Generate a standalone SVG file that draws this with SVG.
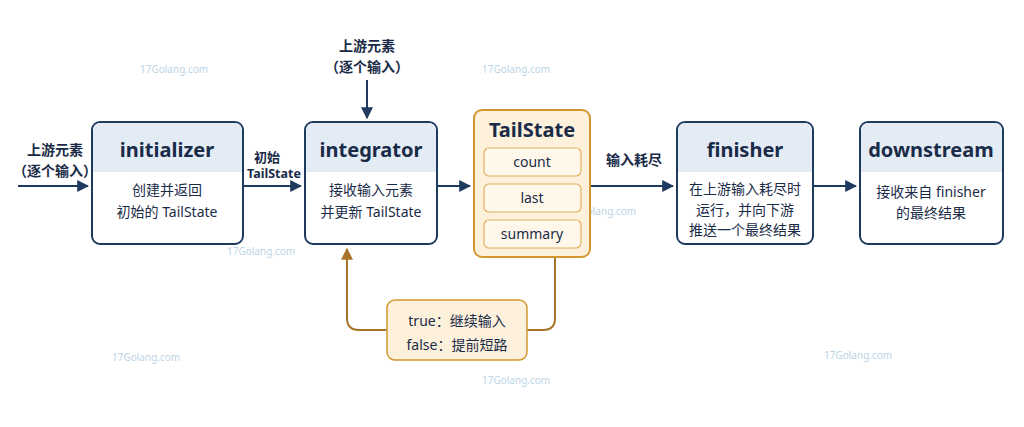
<svg xmlns="http://www.w3.org/2000/svg" width="1024" height="427" viewBox="0 0 1024 427">
<style>
.t{font-family:"Noto Sans","Noto Sans CJK SC",sans-serif;fill:#1a2b48}
.title{font-size:20px;font-weight:700;text-anchor:middle}
.body{font-size:14px;text-anchor:middle}
.lab{font-size:14px;font-weight:700;text-anchor:middle}
.box{fill:#fff;stroke:#1f3a5f;stroke-width:2}
.hd{fill:#e3ebf5}
.conn{stroke:#1f3a5f;stroke-width:2;fill:none}
.fb{stroke:#a8742a;stroke-width:2;fill:none}
.wm{font-family:"Noto Sans",sans-serif;font-size:10px;fill:#9fc3dc;opacity:.7}
.inner{fill:#fff8ea;stroke:#e0b060;stroke-width:1.2}
</style>
<defs>
<marker id="a" viewBox="0 0 10 10" refX="9" refY="5" markerWidth="6" markerHeight="6" orient="auto"><path d="M0,0L10,5L0,10z" fill="#1f3a5f"/></marker>
<marker id="b" viewBox="0 0 10 10" refX="9" refY="5" markerWidth="6" markerHeight="6" orient="auto"><path d="M0,0L10,5L0,10z" fill="#a8742a"/></marker>
</defs>
<rect width="1024" height="427" fill="#fff"/>
<g id="watermarks">
<text class="wm" x="140" y="73">17Golang.com</text><text class="wm" x="482" y="73">17Golang.com</text>
<text class="wm" x="227" y="255">17Golang.com</text><text class="wm" x="568" y="215">17Golang.com</text>
<text class="wm" x="910" y="175">17Golang.com</text><text class="wm" x="112" y="361">17Golang.com</text>
<text class="wm" x="824" y="359">17Golang.com</text><text class="wm" x="482" y="384">17Golang.com</text>
</g>
<g id="connectors">
<path class="conn" d="M18,186H88" marker-end="url(#a)"/>
<path class="conn" d="M243,186H301" marker-end="url(#a)"/>
<path class="conn" d="M367,80V118" marker-end="url(#a)"/>
<path class="conn" d="M437,186H470" marker-end="url(#a)"/>
<path class="conn" d="M590,186H673" marker-end="url(#a)"/>
<path class="conn" d="M813,186H856" marker-end="url(#a)"/>
<path class="fb" d="M555,257V318Q555,330 543,330H527"/>
<path class="fb" d="M387,330H359Q347,330 347,318V249" marker-end="url(#b)"/>
<text class="t lab" x="55" y="155">上游元素</text><text class="t lab" x="55" y="176">（逐个输入）</text>
<text class="t lab" x="267" y="162" style="font-size:13px">初始</text><text class="t lab" x="274" y="178" style="font-size:12.5px">TailState</text>
<text class="t lab" x="367" y="51">上游元素</text><text class="t lab" x="367" y="72">（逐个输入）</text>
<text class="t lab" x="634" y="165">输入耗尽</text>
</g>
<g id="initializer"><rect class="box" x="92" y="122" width="151" height="122" rx="8"/><path class="hd" d="M93,172V131Q93,123 101,123H234Q242,123 242,131V172z"/>
<text class="t title" x="167" y="157">initializer</text><text class="t body" x="167" y="195">创建并返回</text><text class="t body" x="167" y="217">初始的 TailState</text></g>
<g id="integrator"><rect class="box" x="305" y="122" width="132" height="122" rx="8"/><path class="hd" d="M306,172V131Q306,123 314,123H428Q436,123 436,131V172z"/>
<text class="t title" x="371" y="157">integrator</text><text class="t body" x="371" y="195">接收输入元素</text><text class="t body" x="371" y="217">并更新 TailState</text></g>
<g id="tailstate"><rect x="474" y="110" width="116" height="147" rx="8" fill="#fdf1dc" stroke="#d4962f" stroke-width="2"/>
<text class="t title" x="532" y="137">TailState</text>
<rect class="inner" x="484" y="148" width="97" height="28" rx="5"/><text class="t body" x="532" y="167">count</text>
<rect class="inner" x="484" y="184" width="97" height="28" rx="5"/><text class="t body" x="532" y="203">last</text>
<rect class="inner" x="484" y="220" width="97" height="28" rx="5"/><text class="t body" x="532" y="239">summary</text></g>
<g id="finisher"><rect class="box" x="677" y="122" width="136" height="122" rx="8"/><path class="hd" d="M678,172V131Q678,123 686,123H804Q812,123 812,131V172z"/>
<text class="t title" x="745" y="157">finisher</text><text class="t body" x="745" y="194">在上游输入耗尽时</text><text class="t body" x="745" y="215">运行，并向下游</text><text class="t body" x="745" y="235">推送一个最终结果</text></g>
<g id="downstream"><rect class="box" x="860" y="122" width="143" height="122" rx="8"/><path class="hd" d="M861,172V131Q861,123 869,123H994Q1002,123 1002,131V172z"/>
<text class="t title" x="931" y="157">downstream</text><text class="t body" x="931" y="197">接收来自 finisher</text><text class="t body" x="931" y="218">的最终结果</text></g>
<g id="decision"><rect x="387" y="300" width="140" height="60" rx="8" fill="#fdf1dc" stroke="#d4962f" stroke-width="1.5"/>
<text class="t body" x="457" y="326">true：继续输入</text><text class="t body" x="457" y="350">false：提前短路</text></g>
</svg>
